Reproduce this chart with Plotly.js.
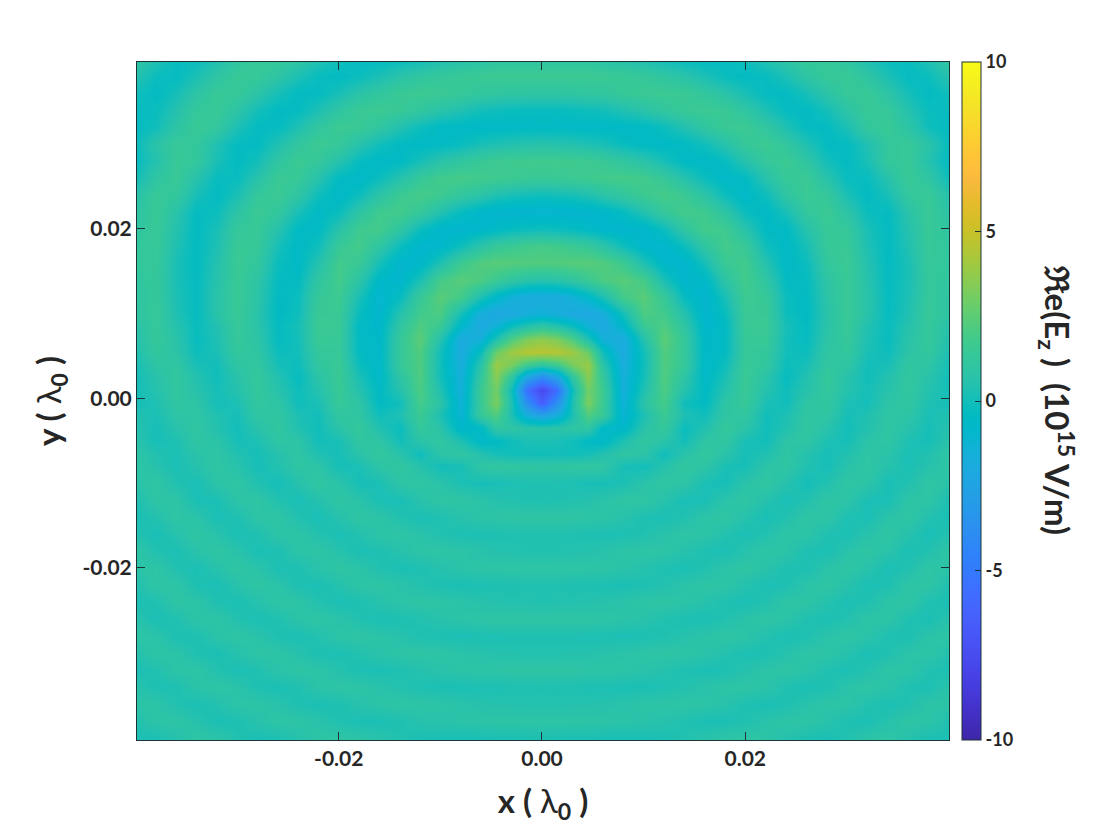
<!DOCTYPE html>
<html><head><meta charset="utf-8">
<script src="https://cdn.plot.ly/plotly-3.0.0.min.js"></script>
<style>html,body{margin:0;padding:0;background:#fff}</style></head>
<body><div id="chart" style="width:1120px;height:832px"></div>
<script>
// x positions (x >= 0, in 0.001 lambda0); the field is left-right symmetric in the picture
const xRight = [0,1.5,3,4.5,6,8,10,12,14,16,18,20,22,24,26,28,30,32,34,36,38,40];
// y positions of the rows (0.001 lambda0)
const yRows = [40,38,36,34,32,30,28,26,24,22,20,18,16,14,12,10,8.5,7,5.5,4,2.5,1,-0.5,-2,-3.5,-5,-6.5,-8,-10,-12,-14,-16,-18,-20,-22,-24,-26,-28,-30,-32,-34,-36,-38,-40];
// Re(Ez) in 1e15 V/m, one row per yRows entry, one value per xRight entry
const zRight = [
[1.0,1.0,1.0,1.0,.7,.55,.25,-.1,-.3,-.4,-.35,0,.45,1.0,1.4,1.4,1.0,.3,-.2,-.2,.4,1.1],
[1.6,1.6,1.6,1.6,1.55,1.45,1.3,1.05,.7,.2,-.2,-.4,-.25,.25,.9,1.4,1.45,.95,.2,-.35,-.2,.55],
[.97,.97,1.0,1.1,1.15,1.4,1.55,1.6,1.5,1.15,.7,.15,-.38,-.4,.1,.8,1.4,1.45,.85,.05,-.4,-.05],
[-.25,-.25,-.2,-.1,0,.35,.7,1.15,1.45,1.6,1.5,1.0,.25,-.35,-.45,.05,.85,1.45,1.3,.5,-.2,-.3],
[-.5,-.55,-.55,-.6,-.65,-.6,-.5,-.15,.4,1.05,1.5,1.6,1.1,.3,-.35,-.4,.25,1.2,1.5,.85,-.05,-.4],
[.6,.55,.45,.3,.15,-.25,-.5,-.6,-.45,-.05,.6,1.35,1.6,1.15,.35,-.4,-.35,.35,1.25,1.4,.75,-.25],
[1.75,1.75,1.7,1.65,1.45,1.1,.7,.1,-.5,-.65,-.3,.55,1.3,1.6,1.0,0,-.4,.15,1.25,1.45,.5,-.35],
[1.45,1.5,1.6,1.7,1.8,1.9,1.8,1.35,.55,-.2,-.7,-.45,.6,1.4,1.55,.6,-.25,-.25,.6,1.5,1.0,-.05],
[-.1,0,.1,.35,.75,1.15,1.65,1.9,1.6,.8,-.15,-.7,-.1,.95,1.55,1.3,.2,-.45,.15,1.2,1.45,.6],
[-1.05,-1.05,-1.05,-1.0,-.85,-.35,.45,1.3,1.85,1.7,.9,-.2,-.6,.15,1.2,1.55,.85,-.15,-.35,.7,1.5,.85],
[-.1,-.2,-.3,-.6,-.85,-1.0,-.9,-.15,1.0,1.85,1.7,.65,-.5,-.5,.55,1.45,1.3,.15,-.4,.5,1.45,1.05],
[1.9,1.8,1.55,1.35,.8,-.1,-.85,-1.0,-.2,1.0,1.85,1.45,-.1,-.6,.1,1.4,1.5,.3,-.4,.35,1.4,1.15],
[2.25,2.25,2.35,2.4,2.25,1.65,.3,-.8,-1.0,.1,1.5,1.8,.5,-.6,-.2,1.2,1.55,.5,-.4,.2,1.35,1.2],
[.55,.7,1.0,1.55,2.1,2.4,1.9,.2,-.95,-.7,.85,1.85,1.0,-.4,-.35,.9,1.5,.6,-.35,.2,1.3,1.1],
[-1.95,-1.9,-1.5,-.75,.25,1.85,2.4,1.4,-.3,-1.05,.15,1.65,1.4,-.2,-.45,.8,1.5,.7,-.3,.25,1.3,1.0],
[-1.4,-1.7,-2.05,-2.2,-1.8,0,2.1,1.8,.55,-1.0,-.25,1.5,1.5,-.1,-.5,.7,1.5,.7,-.35,.35,1.4,.95],
[.95,.55,-.2,-1.4,-2.1,-.8,1.5,2.15,1.0,-.85,-.5,1.5,1.55,.1,-.35,.75,1.4,.4,-.2,.55,1.3,.65],
[3.6,3.2,2.15,.35,-1.55,-1.95,.55,2.5,1.3,-.75,-.45,1.4,1.5,0,-.35,.85,1.35,.3,-.25,.7,1.35,.5],
[4.55,4.5,4.0,2.8,-.15,-1.95,0,2.25,1.35,-.7,-.4,1.35,1.25,0,-.15,1.0,1.2,.2,-.1,.8,1.2,.3],
[1.0,1.6,3.1,3.9,.75,-1.75,-.05,2.2,1.3,-.7,-.15,1.5,1.1,-.15,.1,1.15,.95,0,.15,1.05,.9,.1],
[-4,-2.4,1.0,3.5,1.2,-1.6,.05,2.2,.9,-.7,.2,1.55,.75,-.3,.4,1.3,.65,-.05,.45,1.15,.65,0],
[-7.7,-5.6,-.2,3.0,1.6,-1.6,.35,2.1,.55,-.5,.5,1.5,.5,-.1,.6,1.25,.5,.1,.6,1.15,.5,.05],
[-6.5,-3.8,.2,3.2,1.5,-1.4,.8,1.9,-.05,-.45,.9,1.4,.2,-.05,.9,1.15,.25,.05,.85,1.05,.3,.1],
[-2.6,-1.7,.2,2.2,1.4,-1.2,.25,1.6,.3,-.05,1.0,1.1,0,.25,1.05,.95,.1,.35,.95,.85,.2,.4],
[.7,.75,.9,1.0,-.6,-.8,.7,1.3,-.2,.4,1.3,.75,-.05,.4,1.1,.65,0,.45,1.0,.6,.1,.5],
[.25,.2,-.05,-.5,-.7,.3,1.1,.7,0,.95,1.05,.15,0,.85,.95,.25,.1,.75,.95,.3,.1,.7],
[-.05,0,-.05,.1,.5,1.0,.8,-.1,.65,1.2,.7,.1,.35,.95,.55,.1,.4,.9,.7,.2,.4,.9],
[.95,1.0,1.05,1.1,.95,.15,0,.55,1.1,.85,.2,.1,.8,.95,.4,.1,.6,.95,.55,.2,.55,.9],
[.35,.3,.25,.15,.1,.25,.7,1.0,.85,.2,.1,.7,1.05,.55,.05,.4,.95,.8,.15,.4,.95,.75],
[.3,.35,.45,.5,.7,.95,.95,.6,.15,.2,.7,.95,.5,.15,.4,.95,.8,.2,.2,.85,.9,.3],
[.9,.9,.9,.85,.8,.6,.3,.2,.4,.8,.95,.55,.15,.4,.9,.85,.3,.2,.7,.95,.45,.15],
[.4,.4,.35,.3,.25,.25,.4,.65,.9,.8,.45,.2,.45,.85,.8,.35,.2,.6,.95,.55,.15,.45],
[.4,.4,.45,.5,.6,.8,.9,.85,.55,.3,.2,.55,.9,.75,.3,.2,.65,.95,.65,.2,.4,.9],
[.9,.9,.9,.85,.85,.7,.5,.3,.2,.4,.75,.95,.65,.3,.25,.7,.95,.6,.2,.4,.9,.8],
[.35,.35,.3,.3,.25,.2,.3,.45,.7,.9,.85,.5,.2,.3,.7,.95,.6,.2,.3,.85,.9,.4],
[.4,.45,.45,.5,.6,.7,.85,.9,.8,.55,.3,.2,.45,.85,.9,.5,.2,.35,.8,.9,.35,.2],
[.9,.9,.9,.9,.85,.75,.6,.4,.25,.2,.4,.7,.9,.75,.35,.2,.45,.85,.8,.35,.2,.6],
[.3,.3,.3,.25,.25,.2,.25,.35,.55,.75,.9,.8,.45,.2,.3,.7,.9,.7,.3,.25,.7,.9],
[.45,.45,.5,.5,.6,.7,.85,.9,.85,.7,.45,.25,.25,.55,.85,.85,.55,.2,.35,.75,.85,.5],
[.9,.9,.9,.85,.85,.8,.65,.5,.3,.2,.25,.5,.8,.9,.7,.35,.2,.45,.85,.8,.4,.2],
[.35,.3,.3,.25,.25,.2,.2,.3,.45,.65,.85,.9,.75,.35,.2,.3,.7,.9,.7,.3,.25,.65],
[.45,.45,.5,.5,.55,.65,.8,.85,.9,.8,.6,.3,.2,.3,.6,.85,.8,.45,.2,.4,.8,.85],
[.9,.85,.85,.85,.8,.75,.65,.55,.35,.2,.2,.35,.65,.85,.9,.6,.3,.2,.55,.9,.8,.4],
[.3,.3,.25,.25,.2,.2,.2,.25,.4,.6,.8,.9,.85,.55,.3,.2,.4,.75,.9,.55,.25,.25]
];
const parula = [[.2422,.1504,.6603],[.2504,.165,.7076],[.2578,.1818,.7511],[.2647,.1978,.7952],[.2706,.2147,.8364],[.2751,.2342,.871],[.2783,.2559,.8991],[.2803,.2782,.9221],[.2813,.3006,.9414],[.281,.3228,.9579],[.2795,.3447,.9717],[.276,.3667,.9829],[.2699,.3892,.9906],[.2602,.4123,.9952],[.244,.4358,.9988],[.2206,.4603,.9973],[.1963,.4847,.9892],[.1834,.5074,.9798],[.1786,.5289,.9682],[.1764,.5499,.952],[.1687,.5703,.9359],[.154,.5902,.9218],[.146,.6091,.9079],[.138,.6276,.8973],[.1248,.6459,.8883],[.1113,.6635,.8763],[.0952,.6798,.8598],[.0689,.6948,.8394],[.0297,.7082,.8163],[.0036,.7203,.7917],[.0067,.7312,.766],[.0433,.7411,.7394],[.0964,.75,.712],[.1408,.7584,.6842],[.1717,.767,.6554],[.1938,.7758,.6251],[.2161,.7843,.5923],[.247,.7918,.5567],[.2906,.7973,.5188],[.3406,.8008,.4789],[.3909,.8029,.4354],[.4456,.8024,.3909],[.5044,.7993,.348],[.5616,.7942,.3045],[.6174,.7876,.2612],[.672,.7793,.2227],[.7242,.7698,.191],[.7738,.7598,.1646],[.8203,.7498,.1535],[.8634,.7406,.1596],[.9035,.733,.1774],[.9393,.7288,.21],[.9728,.7298,.2394],[.9956,.7434,.2371],[.997,.7659,.2199],[.9952,.7893,.2028],[.9892,.8136,.1885],[.9786,.8386,.1766],[.9676,.8639,.1643],[.961,.889,.1537],[.9597,.9135,.1423],[.9628,.9373,.1265],[.9691,.9606,.1064],[.9769,.9839,.0805]];
const xTicks = [-0.02,0,0.02];
const yTicks = [-0.02,0,0.02];
const tickTexts = ['-0.02','0.00','0.02'];
const barTicks = [-10,-5,0,5,10];
const barLabels = ['-10','-5','0','5','10'];

const colorscale = parula.map((c,i)=>[i/(parula.length-1),`rgb(${c.map(v=>Math.round(v*255)).join(',')})`]);
const x = xRight.slice(1).reverse().map(v=>-v/1000).concat(xRight.map(v=>v/1000));
const y = yRows.map(v=>v/1000);
const z = zRight.map(r=>r.slice(1).reverse().concat(r));
const fontFam = 'Lato, "Open Sans", sans-serif';
const ink = '#262626', frame = '#1c3436';
const axisBase = {showgrid:false,zeroline:false,showline:true,mirror:'ticks',linecolor:frame,linewidth:1,
  ticks:'inside',ticklen:8,tickwidth:1,tickcolor:frame,tickfont:{family:fontFam,size:21,color:ink,weight:700},tickmode:'array',ticktext:tickTexts};
Plotly.newPlot('chart',[{type:'heatmap',x,y,z,zmin:-10,zmax:10,zsmooth:'best',colorscale,
  colorbar:{x:1.0154,xanchor:'left',y:0,yanchor:'bottom',len:1,lenmode:'fraction',thickness:19,thicknessmode:'pixels',
    xpad:0,ypad:0,outlinecolor:frame,outlinewidth:1,ticks:'inside',ticklen:6,tickwidth:1,tickcolor:frame,
    tickmode:'array',tickvals:barTicks,ticktext:barLabels,tickfont:{family:fontFam,size:18,color:ink,weight:700}}}],
 {width:1120,height:832,margin:{l:136.5,r:170.5,t:62,b:92,pad:0},paper_bgcolor:'#fff',plot_bgcolor:'#fff',
  xaxis:Object.assign({},axisBase,{range:[-0.03985,0.04005],tickvals:xTicks,
    title:{text:'x ( <span style="font-weight:400">λ</span><sub>0</sub> )',standoff:20,font:{family:fontFam,size:33,color:ink,weight:700}}}),
  yaxis:Object.assign({},axisBase,{range:[-0.0403,0.0397],tickvals:yTicks,
    title:{text:'y ( <span style="font-weight:400">λ</span><sub>0</sub> )',standoff:10,font:{family:fontFam,size:33,color:ink,weight:700}}}),
  annotations:[{xref:'paper',yref:'paper',x:1.1335,y:0.5,xanchor:'center',yanchor:'middle',textangle:90,showarrow:false,
    text:'ℜe(E<sub>z</sub> )  (10<sup>15</sup> V/m)',font:{family:fontFam,size:33,color:ink,weight:700}}]
 },{displayModeBar:false,staticPlot:true});
</script></body></html>
